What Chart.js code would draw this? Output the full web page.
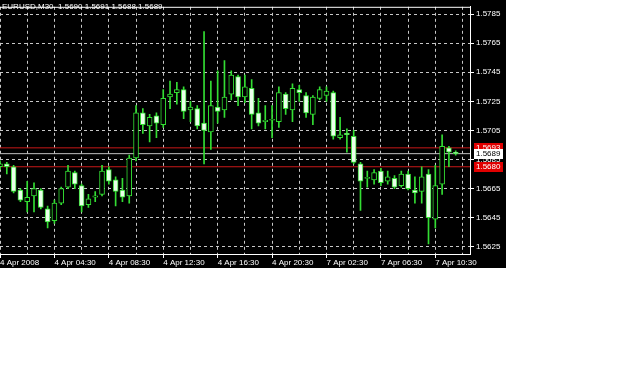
<!DOCTYPE html>
<html>
<head>
<meta charset="utf-8">
<script src="https://cdn.jsdelivr.net/npm/chart.js@4.4.1/dist/chart.umd.min.js"></script>
<style>
  html, body { margin: 0; background: #fff; }
  #wrap { width: 506px; height: 268px; background: #000; }
</style>
</head>
<body>
<div id="wrap"><canvas id="chart" width="506" height="268"></canvas></div>
<script>
const symbol = "EURUSD,M30";

// M30 bars, oldest first
const open = [1.5680, 1.5682, 1.5680, 1.5664, 1.5656, 1.5660, 1.5664, 1.5651, 1.5643, 1.5655,
  1.5666, 1.5676, 1.5667, 1.5654, 1.5659, 1.5661, 1.5678, 1.5671, 1.5664, 1.5660,
  1.5686, 1.5717, 1.5708, 1.5715, 1.5709, 1.5728, 1.5731, 1.5733, 1.5719, 1.5720,
  1.5710, 1.5704, 1.5721, 1.5719, 1.5730, 1.5742, 1.5728, 1.5734, 1.5717, 1.5711,
  1.5712, 1.5711, 1.5730, 1.5719, 1.5733, 1.5729, 1.5716, 1.5727, 1.5729, 1.5731,
  1.5700, 1.5703, 1.5701, 1.5682, 1.5672, 1.5671, 1.5677, 1.5670, 1.5672, 1.5667,
  1.5675, 1.5664, 1.5663, 1.5675, 1.5644, 1.5668, 1.5693, 1.5690];
const high = [1.5684, 1.5683, 1.5681, 1.5665, 1.5670, 1.5669, 1.5665, 1.5653, 1.5657, 1.5666,
  1.5681, 1.5677, 1.5668, 1.5661, 1.5663, 1.5681, 1.5680, 1.5673, 1.5672, 1.5688,
  1.5722, 1.5720, 1.5716, 1.5717, 1.5733, 1.5739, 1.5738, 1.5735, 1.5725, 1.5722,
  1.5773, 1.5739, 1.5746, 1.5753, 1.5746, 1.5743, 1.5743, 1.5740, 1.5727, 1.5722,
  1.5722, 1.5735, 1.5731, 1.5737, 1.5736, 1.5731, 1.5729, 1.5735, 1.5735, 1.5732,
  1.5714, 1.5706, 1.5705, 1.5683, 1.5677, 1.5678, 1.5679, 1.5677, 1.5674, 1.5677,
  1.5677, 1.5673, 1.5680, 1.5678, 1.5681, 1.5702, 1.5694, 1.5691];
const low = [1.5678, 1.5675, 1.5662, 1.5656, 1.5649, 1.5649, 1.5651, 1.5638, 1.5641, 1.5654,
  1.5665, 1.5665, 1.5649, 1.5652, 1.5656, 1.5660, 1.5668, 1.5653, 1.5656, 1.5655,
  1.5684, 1.5703, 1.5697, 1.5700, 1.5707, 1.5720, 1.5723, 1.5713, 1.5711, 1.5706,
  1.5682, 1.5692, 1.5710, 1.5714, 1.5726, 1.5722, 1.5724, 1.5706, 1.5708, 1.5706,
  1.5700, 1.5707, 1.5716, 1.5711, 1.5725, 1.5714, 1.5709, 1.5726, 1.5725, 1.5699,
  1.5699, 1.5690, 1.5682, 1.5650, 1.5666, 1.5668, 1.5667, 1.5668, 1.5665, 1.5666,
  1.5664, 1.5655, 1.5655, 1.5627, 1.5638, 1.5661, 1.5680, 1.5688];
const close = [1.5682, 1.5680, 1.5663, 1.5657, 1.5659, 1.5665, 1.5652, 1.5642, 1.5655, 1.5665,
  1.5677, 1.5668, 1.5653, 1.5658, 1.5660, 1.5677, 1.5670, 1.5663, 1.5659, 1.5686,
  1.5717, 1.5709, 1.5714, 1.5710, 1.5727, 1.5730, 1.5733, 1.5718, 1.5721, 1.5708,
  1.5705, 1.5722, 1.5718, 1.5728, 1.5743, 1.5728, 1.5735, 1.5716, 1.5710, 1.5712,
  1.5712, 1.5731, 1.5720, 1.5734, 1.5731, 1.5717, 1.5728, 1.5733, 1.5732, 1.5701,
  1.5702, 1.5702, 1.5683, 1.5670, 1.5672, 1.5676, 1.5669, 1.5673, 1.5666, 1.5675,
  1.5665, 1.5662, 1.5673, 1.5645, 1.5667, 1.5694, 1.5690, 1.5689];

// one label every 8 bars
const timeLabels = ["4 Apr 2008", "4 Apr 04:30", "4 Apr 08:30", "4 Apr 12:30", "4 Apr 16:30",
  "4 Apr 20:30", "7 Apr 02:30", "7 Apr 06:30", "7 Apr 10:30"];
const priceTicks = [1.5625, 1.5645, 1.5665, 1.5685, 1.5705, 1.5725, 1.5745, 1.5765, 1.5785];
const levels = [1.5693, 1.5680];
const bid = 1.5689;

const green = "#33dd33";
const last = open.length - 1;

Chart.defaults.font.family = "Liberation Sans";
Chart.defaults.font.size = 8;

const lineSet = (value, color) => ({
  type: "line",
  data: [{ x: 0, y: value }, { x: 70, y: value }],
  borderColor: color,
  borderWidth: 1,
  pointRadius: 0,
  order: 5,
});

// frame top, title text and price boxes on the right scale
const overlay = {
  id: "overlay",
  afterDraw(chart) {
    const { ctx, chartArea } = chart;
    const y = chart.scales.y;
    ctx.save();
    ctx.strokeStyle = "#fff";
    ctx.lineWidth = 1;
    ctx.beginPath();
    ctx.moveTo(chartArea.left, chartArea.top + 0.5);
    ctx.lineTo(chartArea.right, chartArea.top + 0.5);
    ctx.stroke();

    ctx.font = "8px Liberation Sans";
    ctx.textBaseline = "middle";
    ctx.fillStyle = "#fff";
    const ohlc = [open[last], high[last], low[last], close[last]].map((v) => v.toFixed(4)).join(" ");
    ctx.fillText(symbol + "  " + ohlc, 2, 7);

    const box = (value, bg, fg) => {
      const py = Math.round(y.getPixelForValue(value));
      ctx.fillStyle = bg;
      ctx.fillRect(chartArea.right + 4, py - 5, 29, 10);
      ctx.fillStyle = fg;
      ctx.fillText(value.toFixed(4), chartArea.right + 6, py);
    };
    levels.forEach((v) => box(v, "#e00000", "#fff"));
    box(bid, "#fff", "#000");
    ctx.restore();
  },
};

new Chart(document.getElementById("chart"), {
  type: "bar",
  data: {
    datasets: [
      {
        data: open.map((o, i) => ({ x: i, y: [o, close[i]] })),
        backgroundColor: open.map((o, i) => (close[i] >= o ? "#000" : "#eaffea")),
        borderColor: green,
        borderWidth: 1,
        borderSkipped: false,
        barThickness: 5,
        minBarLength: 1,
        grouped: false,
        order: 0,
      },
      {
        data: low.map((l, i) => ({ x: i, y: [l, high[i]] })),
        backgroundColor: green,
        borderWidth: 0,
        barThickness: 1,
        grouped: false,
        order: 1,
      },
      lineSet(levels[0], "#c81818"),
      lineSet(levels[1], "#c81818"),
      lineSet(bid, "#c0c0c0"),
    ],
  },
  options: {
    responsive: false,
    animation: false,
    devicePixelRatio: 1,
    layout: { padding: { top: 1, left: 0, right: 0, bottom: 0 } },
    plugins: { legend: { display: false }, tooltip: { enabled: false } },
    scales: {
      x: {
        type: "linear",
        offset: false,
        min: 0,
        max: 69.1,
        afterBuildTicks: (s) => {
          const t = [];
          for (let v = 0; v <= 68; v += 4) t.push({ value: v });
          s.ticks = t;
        },
        afterFit: (s) => { s.height = 14; s.paddingLeft = 0; s.paddingRight = 0; },
        ticks: {
          color: "#fff",
          align: "start",
          padding: 0,
          autoSkip: false,
          maxRotation: 0,
          callback: (v) => (v % 8 === 0 ? timeLabels[v / 8] : ""),
        },
        grid: {
          offset: false,
          color: "#c8c8c8",
          tickLength: 4,
          tickColor: (c) => (c.tick && c.tick.value % 8 === 0 ? "#fff" : "rgba(0,0,0,0)"),
        },
        border: { color: "#fff", dash: [3, 3] },
      },
      y: {
        position: "right",
        min: 1.562,
        max: 1.579,
        afterBuildTicks: (s) => { s.ticks = priceTicks.map((v) => ({ value: v })); },
        afterFit: (s) => { s.width = 36; },
        ticks: { color: "#fff", padding: 2, callback: (v) => v.toFixed(4) },
        grid: { color: "#c8c8c8", tickLength: 4, tickColor: "#fff" },
        border: { color: "#fff", dash: [3, 3] },
      },
    },
  },
  plugins: [overlay],
});
</script>
</body>
</html>
